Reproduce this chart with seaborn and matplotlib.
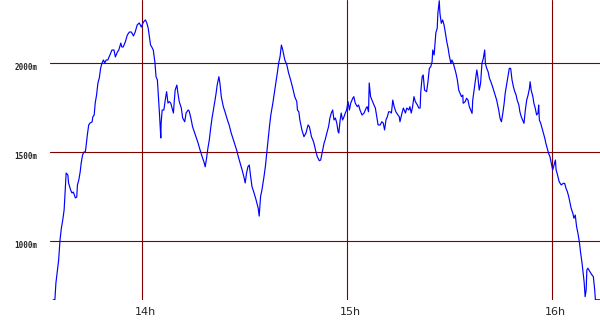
import matplotlib
matplotlib.use("Agg")
import matplotlib.pyplot as plt
import matplotlib.transforms as mtransforms
import seaborn as sns
import pandas as pd

# minutes after 13:00
minutes = [
    34.0, 34.5, 34.8, 35.2, 35.6, 36.0, 36.4, 36.8, 37.2, 37.4, 37.8, 38.3, 38.5, 39.1, 39.5, 39.9,
    40.5, 40.9, 41.1, 41.5, 41.9, 42.2, 42.6, 43.0, 43.4, 43.6, 44.0, 44.4, 44.8, 45.4, 45.6, 46.0,
    46.3, 46.7, 47.1, 47.5, 47.9, 48.3, 48.7, 49.1, 49.5, 50.0, 50.6, 51.2, 51.8, 52.2, 52.8, 53.2,
    53.8, 54.1, 54.5, 55.1, 55.7, 56.3, 56.9, 57.5, 58.0, 58.6, 59.2, 59.8, 60.4, 61.0, 61.4, 61.8,
    62.5, 62.8, 63.3, 63.8, 64.1, 64.5, 64.8, 65.1, 65.5, 65.6, 65.9, 66.4, 66.8, 67.2, 67.6, 68.0,
    68.4, 68.8, 69.2, 69.4, 69.7, 70.2, 70.5, 70.9, 71.5, 71.9, 72.5, 72.9, 73.5, 73.8, 74.3, 74.8,
    75.6, 76.4, 77.0, 77.6, 78.1, 78.5, 78.9, 79.3, 79.7, 80.1, 80.5, 80.9, 81.3, 81.7, 82.0, 82.5,
    82.8, 83.2, 83.8, 84.4, 85.0, 85.5, 86.1, 86.9, 87.7, 88.3, 88.9, 89.3, 89.9, 90.2, 90.6, 91.0,
    91.4, 91.8, 92.2, 92.8, 93.4, 94.0, 94.3, 94.7, 95.1, 95.7, 96.1, 96.5, 96.9, 97.3, 97.7, 98.3,
    98.8, 99.2, 99.6, 100.0, 100.4,
    100.8, 101.2, 101.8, 102.4, 102.9, 103.5, 104.1, 104.7, 105.3, 105.5, 105.9, 106.2, 106.8, 107.4,
    108.0, 108.6, 109.0, 109.6, 110.0, 110.3, 110.9, 111.3, 111.9, 112.3, 112.7, 113.3, 113.6, 114.1,
    114.6, 115.0, 115.4, 115.8, 116.2, 116.6, 117.0, 117.4, 117.6, 118.0, 118.3, 118.7, 119.1, 119.5,
    119.9, 120.3, 120.7, 121.1, 121.7, 122.0, 122.4, 123.0, 123.4, 123.8, 124.4, 125.0, 125.6, 125.9,
    126.3, 126.5, 126.9, 127.3, 127.9, 128.3, 128.7, 129.1, 129.7, 130.2, 130.6, 131.0, 131.4, 131.8,
    132.2, 132.6, 133.0, 133.4, 133.8, 134.3, 134.9, 135.3,
    135.5, 136.1, 136.5, 137.1, 137.5, 138.1, 138.4, 138.8, 139.2, 139.6, 140.0, 140.6, 141.0, 141.4,
    141.6, 142.0, 142.3, 142.7, 143.3, 143.7, 144.1, 144.5, 144.9, 145.1, 145.5, 145.7, 146.0, 146.4,
    146.6, 147.0, 147.2, 147.6, 148.0, 148.4, 148.8, 149.2, 149.6, 149.9, 150.4, 150.7, 151.1, 151.5,
    151.9, 152.3, 152.7, 153.1, 153.5, 153.9, 154.0, 154.6, 155.0, 155.4, 155.8, 156.2, 156.6, 156.8,
    157.2, 157.6, 158.0, 158.3, 158.7, 159.1, 159.5, 159.9, 160.3, 160.5, 160.9, 161.3, 161.7, 162.1,
    162.6, 163.2, 163.8, 164.4, 164.8, 165.2, 165.6, 166.0, 166.3, 166.7, 167.1, 167.5, 167.9, 168.3,
    168.7, 169.1, 169.5, 169.8, 170.3, 170.6, 171.0, 171.4, 171.8, 172.2, 172.6, 173.0, 173.4, 173.6,
    173.9, 174.4, 174.7, 175.1, 175.5, 175.9, 176.1, 176.3, 176.7, 177.1, 177.5, 177.9, 178.2, 178.6,
    179.0, 179.4, 179.8, 180.2, 180.6, 181.0, 181.2, 181.5, 182.1, 182.7, 183.3, 183.7, 184.1, 184.5,
    184.9, 185.3, 185.6, 186.1, 186.4, 186.8, 187.2, 187.6, 188.0, 188.4, 188.8, 189.2, 189.4, 189.7,
    190.0, 190.2, 190.5, 191.1, 191.7, 192.1, 192.5, 192.7, 194.1,
]

altitude_m = [
    670, 670, 764, 826, 893, 1006, 1073, 1118, 1174, 1242, 1382, 1371, 1326, 1287, 1270, 1275,
    1242, 1247, 1315, 1343, 1388, 1438, 1483, 1500, 1500, 1528, 1596, 1652, 1663, 1669, 1697, 1708,
    1775, 1820, 1888, 1916, 1972, 2000, 2017, 2000, 2017, 2017, 2045, 2073, 2073, 2034, 2062, 2073,
    2112, 2090, 2090, 2118, 2157, 2174, 2174, 2152, 2174, 2214, 2225, 2202, 2230, 2242, 2225, 2197,
    2101, 2092, 2073, 2000, 1923, 1905, 1811, 1719, 1579, 1663, 1736, 1736, 1792, 1839, 1775, 1783,
    1775, 1747, 1719, 1775, 1848, 1876, 1832, 1783, 1747, 1691, 1670, 1719, 1736, 1730, 1691, 1642,
    1596, 1551, 1511, 1474, 1446, 1417, 1466, 1523, 1568, 1635, 1691, 1736, 1783, 1832, 1876, 1923,
    1888, 1811, 1755, 1719, 1680, 1652, 1607, 1558, 1511, 1466, 1427, 1399, 1354, 1326, 1382, 1417,
    1427, 1361, 1305, 1270, 1230, 1185, 1140, 1249, 1287, 1361, 1417, 1494, 1568, 1642, 1708, 1775,
    1839, 1888, 1944, 2000, 2035,
    2101, 2073, 2017, 1989, 1944, 1905, 1860, 1811, 1783, 1736, 1726, 1680, 1624, 1586,
    1607, 1652, 1642, 1586, 1568, 1551, 1502, 1474, 1451, 1455, 1494, 1551, 1568, 1607,
    1642, 1691, 1719, 1736, 1680, 1691, 1663, 1614, 1607, 1680, 1719, 1680, 1697, 1719,
    1736, 1783, 1736, 1775, 1803, 1811, 1775, 1755, 1764, 1736, 1708, 1719, 1747, 1755,
    1726, 1888, 1811, 1792, 1764, 1747, 1698, 1652, 1652, 1670, 1663, 1624, 1680, 1698,
    1726, 1726, 1719, 1792, 1755, 1726, 1708, 1698,
    1670, 1719, 1747, 1719, 1747, 1736, 1755, 1719, 1755, 1811, 1783, 1764, 1747, 1747,
    1839, 1923, 1933, 1848, 1839, 1895, 1970, 1979, 2007, 2073, 2045, 2092, 2169, 2195,
    2279, 2350, 2279, 2223, 2242, 2214, 2169, 2120, 2083, 2045, 1998, 2017, 2000, 1970,
    1942, 1905, 1848, 1830, 1811, 1820, 1774, 1783, 1802, 1792, 1755, 1736, 1717, 1792,
    1848, 1905, 1961, 1923, 1848, 1886, 1998, 2026, 2073, 1998, 1970, 1951, 1914, 1895,
    1867, 1830, 1792, 1736, 1689, 1670, 1717, 1774, 1830, 1876, 1923, 1970, 1970, 1905,
    1867, 1839, 1820, 1792, 1764, 1726, 1698, 1680, 1661, 1736, 1792, 1820, 1858, 1895,
    1848, 1811, 1774, 1746, 1708, 1719, 1764, 1680, 1661, 1633, 1605, 1577, 1549, 1521,
    1493, 1474, 1437, 1399, 1427, 1455, 1399, 1380, 1333, 1315, 1324, 1324, 1296, 1277,
    1249, 1212, 1184, 1156, 1128, 1146, 1080, 1043, 996, 931, 875, 809, 771, 687,
    725, 837, 847, 828, 809, 800, 725, 670, 670,
]

tick_minutes = [60, 120, 180]
tick_labels = ["14h", "15h", "16h"]
alt_ticks = [1000, 1500, 2000]
alt_labels = ["1000m", "1500m", "2000m"]

df = pd.DataFrame({"minutes": minutes, "altitude": altitude_m})

sns.set_theme(style="white")
fig = plt.figure(figsize=(6.0, 3.3), dpi=100)
ax = fig.add_axes([50 / 600, 30 / 330, 550 / 600, 300 / 330])

grid_color = "#800000"
for t in tick_minutes:
    ax.axvline(t, color=grid_color, lw=0.8, zorder=1)
for a in alt_ticks:
    ax.axhline(a, color=grid_color, lw=0.8, zorder=1)

sns.lineplot(data=df, x="minutes", y="altitude", color="#0000ff", lw=0.85,
             estimator=None, sort=False, ax=ax, zorder=3)

ax.set_xlim(33.07, 194.05)
ax.set_ylim(668.6, 2354)
for s in ax.spines.values():
    s.set_visible(False)
ax.set_xlabel("")
ax.set_ylabel("")
ax.set_xticks(tick_minutes)
ax.set_xticklabels(tick_labels, fontsize=8, family="DejaVu Sans")
ax.set_yticks(alt_ticks)
ax.set_yticklabels(alt_labels, fontsize=5.5, family="DejaVu Sans Mono", fontweight="bold")
ax.tick_params(axis="x", length=0, pad=5)
ax.tick_params(axis="y", length=0, pad=9)

off_y = mtransforms.ScaledTranslation(0, -3 / 100, fig.dpi_scale_trans)
for lab in ax.get_yticklabels():
    lab.set_transform(lab.get_transform() + off_y)
off_x = mtransforms.ScaledTranslation(3 / 100, 0, fig.dpi_scale_trans)
for lab in ax.get_xticklabels():
    lab.set_transform(lab.get_transform() + off_x)

fig.savefig("out.png", dpi=100, facecolor="white")
